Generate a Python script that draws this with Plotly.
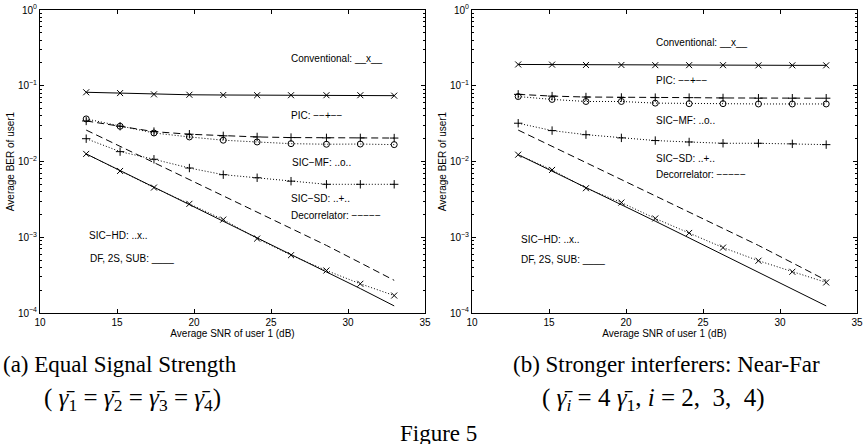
import numpy as np
import plotly.graph_objects as go

# ---------------- data ----------------
snr = [13, 15.2, 17.4, 19.7, 21.9, 24.1, 26.3, 28.6, 30.8, 33]

# (a) equal signal strength
a_conventional = [0.082, 0.080, 0.077, 0.076, 0.0755, 0.075, 0.075, 0.075, 0.075, 0.074]
a_pic = [0.0343, 0.0292, 0.0248, 0.0229, 0.0218, 0.0211, 0.0207, 0.0205, 0.0205, 0.0204]
a_sic_mf = [0.0365, 0.0292, 0.0238, 0.0211, 0.0191, 0.0181, 0.0172, 0.0169, 0.0170, 0.0167]
a_sic_sd = [0.020, 0.0135, 0.0107, 0.0082, 0.0067, 0.0061, 0.0055, 0.0050, 0.0050, 0.0050]
a_decorrelator = [0.026, 0.0158, 0.0096, 0.0058, 0.0035, 0.00215, 0.0013, 0.00078, 0.00046, 0.00027]
a_sic_hd = [0.0126, 0.0075, 0.00453, 0.00276, 0.00171, 0.00096, 0.00058, 0.000364, 0.000243, 0.000170]
a_df = [0.0126, 0.0076, 0.0046, 0.0027, 0.00165, 0.00098, 0.00059, 0.00035, 0.00021, 0.000124]

# (b) stronger interferers: near-far
b_conventional = [0.191, 0.190, 0.188, 0.188, 0.187, 0.187, 0.187, 0.186, 0.186, 0.186]
b_pic = [0.077, 0.073, 0.071, 0.070, 0.0697, 0.0697, 0.069, 0.0685, 0.0685, 0.0685]
b_sic_mf = [0.072, 0.066, 0.062, 0.062, 0.059, 0.058, 0.058, 0.0575, 0.0575, 0.0575]
b_sic_sd = [0.032, 0.0256, 0.0226, 0.0205, 0.0189, 0.0181, 0.0174, 0.0174, 0.0171, 0.0167]
b_decorrelator = [0.026, 0.0158, 0.0096, 0.0058, 0.0035, 0.00215, 0.0013, 0.00078, 0.00046, 0.00027]
b_sic_hd = [0.0123, 0.00774, 0.00444, 0.00287, 0.00177, 0.00114, 0.00073, 0.00049, 0.00035, 0.000253]
b_df = [0.0123, 0.0075, 0.0045, 0.0027, 0.00163, 0.00098, 0.00059, 0.00035, 0.00021, 0.000124]

x_ticks = [10, 15, 20, 25, 30, 35]
x_ticktext = ["10", "15", "20", "25", "30", "35"]
y_ticks = [1e-4, 1e-3, 1e-2, 1e-1, 1]
y_ticktext = ["10<sup>\u22124</sup>", "10<sup>\u22123</sup>", "10<sup>\u22122</sup>",
              "10<sup>\u22121</sup>", "10<sup>0</sup>"]

labels = ["Conventional: __x__", "PIC: \u2212\u2212+\u2212\u2212", "SIC\u2212MF: ..o..",
          "SIC\u2212SD: ..+..", "Decorrelator: \u2212\u2212\u2212\u2212\u2212",
          "SIC\u2212HD: ..x..", "DF, 2S, SUB: ____"]

# ---------------- styles ----------------
SANS = "Liberation Sans, Arial, sans-serif"
SERIF = "Liberation Serif, Times New Roman, serif"
DASH = "7px,4px"
DOT = "1px,2px"

fig = go.Figure()

def add_panel(xa, ya, conv, pic, mf, sd, dec, hd, df):
    common = dict(xaxis=xa, yaxis=ya, showlegend=False, hoverinfo="skip")
    mk_x = dict(symbol="x-thin", size=6, line=dict(color="black", width=1))
    mk_p = dict(symbol="cross-thin", size=6, line=dict(color="black", width=1))
    mk_o = dict(symbol="circle-open", size=6, color="black", line=dict(color="black", width=1))
    fig.add_trace(go.Scatter(x=snr, y=df, mode="lines",
                             line=dict(color="black", width=1), **common))
    fig.add_trace(go.Scatter(x=snr, y=dec, mode="lines",
                             line=dict(color="black", width=1, dash=DASH), **common))
    fig.add_trace(go.Scatter(x=snr, y=hd, mode="lines+markers",
                             line=dict(color="black", width=1, dash=DOT), marker=mk_x, **common))
    fig.add_trace(go.Scatter(x=snr, y=sd, mode="lines+markers",
                             line=dict(color="black", width=1, dash=DOT), marker=mk_p, **common))
    fig.add_trace(go.Scatter(x=snr, y=mf, mode="lines+markers",
                             line=dict(color="black", width=1, dash=DOT), marker=mk_o, **common))
    fig.add_trace(go.Scatter(x=snr, y=pic, mode="lines+markers",
                             line=dict(color="black", width=1, dash=DASH), marker=mk_p, **common))
    fig.add_trace(go.Scatter(x=snr, y=conv, mode="lines+markers",
                             line=dict(color="black", width=1), marker=mk_x, **common))

add_panel("x", "y", a_conventional, a_pic, a_sic_mf, a_sic_sd, a_decorrelator, a_sic_hd, a_df)
add_panel("x2", "y2", b_conventional, b_pic, b_sic_mf, b_sic_sd, b_decorrelator, b_sic_hd, b_df)

minor_vals = [k * 10.0 ** e for e in range(-4, 0) for k in range(2, 10)]

xaxis_style = dict(range=[10, 35], tickvals=x_ticks, ticktext=x_ticktext, automargin=False,
                   ticks="inside", ticklen=4, tickcolor="black", showline=True,
                   linecolor="black", linewidth=1, mirror="ticks", showgrid=False,
                   zeroline=False, tickfont=dict(family=SANS, size=10, color="black"),
                   title=dict(text="Average SNR of user 1 (dB)", standoff=2,
                              font=dict(family=SANS, size=10, color="black")))
yaxis_style = dict(type="log", range=[-4, 0], tickvals=y_ticks, ticktext=y_ticktext,
                   automargin=False,
                   ticks="inside", ticklen=4, tickcolor="black", showline=True,
                   linecolor="black", linewidth=1, mirror="ticks", showgrid=False,
                   zeroline=False, tickfont=dict(family=SANS, size=10, color="black"),
                   minor=dict(tickvals=minor_vals, ticks="inside", ticklen=2,
                              tickcolor="black", showgrid=False),
                   title=dict(text="Average BER of user1", standoff=1,
                              font=dict(family=SANS, size=10, color="black")))

H = 444.0
W = 868.0
ydom = [1 - 313 / H, 1 - 10 / H]
fig.update_layout(
    template="none",
    width=868, height=444, margin=dict(l=0, r=0, t=0, b=0, autoexpand=False),
    paper_bgcolor="white", plot_bgcolor="white",
    xaxis=dict(domain=[40 / W, 425 / W], anchor="y", **xaxis_style),
    yaxis=dict(domain=ydom, anchor="x", **yaxis_style),
    xaxis2=dict(domain=[472 / W, 857 / W], anchor="y2", **xaxis_style),
    yaxis2=dict(domain=ydom, anchor="x2", **yaxis_style),
)

# in-plot labels (positions in data units)
pos_a = [(26.2, 0.23), (26.2, 0.040), (26.25, 0.0098), (26.2, 0.00328),
         (26.2, 0.00194), (13.05, 0.00106), (13.1, 0.00052)]
pos_b = [(21.8, 0.37), (21.8, 0.117), (21.8, 0.0343), (21.8, 0.011),
         (21.8, 0.00666), (13.05, 0.00092), (13.05, 0.000503)]
for (xr, yr), pos in (("x", "y"), pos_a), (("x2", "y2"), pos_b):
    for txt, (px, py) in zip(labels, pos):
        fig.add_annotation(x=px, y=np.log10(py), xref=xr, yref=yr, text=txt,
                           showarrow=False, xanchor="left", yanchor="middle",
                           font=dict(family=SANS, size=10, color="black"))

# captions
g = "<i>\u03b3\u0304</i>"
captions = [
    ("(a) Equal Signal Strength", 1, 364, "left", 23),
    ("( " + g + "<sub>1</sub> = " + g + "<sub>2</sub> = " + g + "<sub>3</sub> = " + g + "<sub>4</sub>)", 132, 399, "center", 25),
    ("(b) Stronger interferers: Near-Far", 666, 364, "center", 23),
    ("( " + g + "<sub><i>i</i></sub> = 4 " + g + "<sub>1</sub>, <i>i</i> = 2,  3,  4)", 653, 399, "center", 25),
    ("Figure 5", 438, 433, "center", 23),
]
for txt, px, py, xa, fs in captions:
    fig.add_annotation(x=px / W, y=1 - py / H, xref="paper", yref="paper", text=txt,
                       showarrow=False, xanchor=xa, yanchor="middle",
                       font=dict(family=SERIF, size=fs, color="black"))

fig.write_html("out.html")
